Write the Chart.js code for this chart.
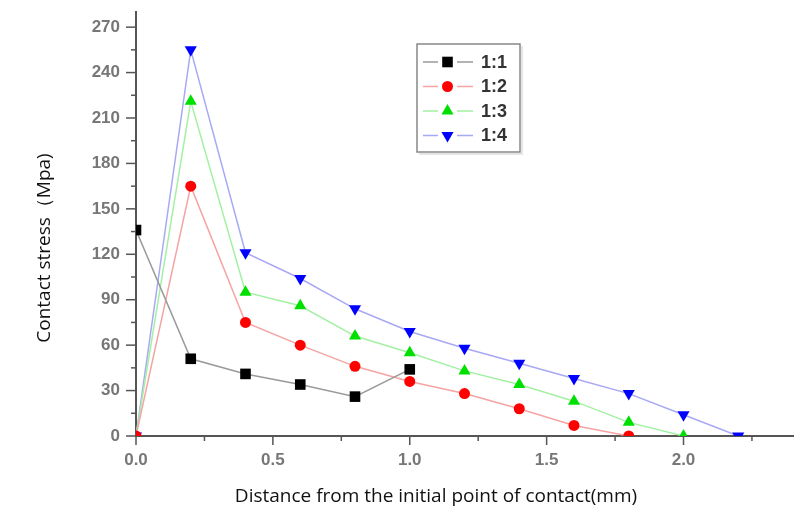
<!DOCTYPE html>
<html>
<head>
<meta charset="utf-8">
<script src="https://cdn.jsdelivr.net/npm/chart.js@4.4.1/dist/chart.umd.min.js"></script>
<style>
  html, body { margin: 0; padding: 0; background: #fff; }
  #wrap { width: 806px; height: 516px; }
</style>
</head>
<body>
<div id="wrap"><canvas id="chart" width="806" height="516"></canvas></div>
<script>
// distance (mm)
const distances = [0, 0.2, 0.4, 0.6, 0.8, 1.0, 1.2, 1.4, 1.6, 1.8, 2.0, 2.2];
const ratio11 = [136, 51, 41, 34, 26, 44];
const ratio12 = [0, 165, 75, 60, 46, 36, 28, 18, 7, 0];
const ratio13 = [0, 221, 95, 86, 66, 55, 43, 34, 23, 9, 0];
const ratio14 = [0, 255, 121, 104, 84, 69, 58, 48, 38, 28, 14, 0];
const seriesNames = ['1:1', '1:2', '1:3', '1:4'];
const yTicks = [0, 15, 30, 45, 60, 75, 90, 105, 120, 135, 150, 165, 180, 195, 210, 225, 240, 255, 270];
const xTicks = [0, 0.25, 0.5, 0.75, 1.0, 1.25, 1.5, 1.75, 2.0, 2.25];

const toPoints = vals => vals.map((v, i) => ({ x: distances[i], y: v }));

const styles = [
    { line: '#9a9a9a', mark: '#000000', shape: 'rect', r: 7.5, rot: 0 },
    { line: '#f5a3a3', mark: '#ff0000', shape: 'circle', r: 5.5, rot: 0 },
    { line: '#a3f0a3', mark: '#00e000', shape: 'triangle', r: 7, rot: 0 },
    { line: '#a8a8f5', mark: '#0000ff', shape: 'triangle', r: 7, rot: 180 }
];

const allData = [ratio11, ratio12, ratio13, ratio14];
const datasets = allData.map((vals, i) => ({
    label: seriesNames[i],
    data: toPoints(vals),
    borderColor: styles[i].line,
    borderWidth: 1.5,
    pointStyle: styles[i].shape,
    pointRotation: styles[i].rot,
    pointRadius: styles[i].r,
    pointBackgroundColor: styles[i].mark,
    pointBorderColor: styles[i].mark,
    pointBorderWidth: 0,
    tension: 0
}));

const tickFont = { family: 'Liberation Sans, Arial', size: 17, weight: 'bold' };

// ticks, axis titles and legend drawn on top
const decorPlugin = {
    id: 'decor',
    afterDraw(chart) {
        const ctx = chart.ctx;
        const xs = chart.scales.x, ys = chart.scales.y;
        const area = chart.chartArea;
        ctx.save();
        ctx.strokeStyle = '#555';
        ctx.lineWidth = 1.5;
        yTicks.forEach(v => {
            const py = ys.getPixelForValue(v);
            const len = v % 30 === 0 ? 10 : 5;
            ctx.beginPath();
            ctx.moveTo(area.left - len, py);
            ctx.lineTo(area.left, py);
            ctx.stroke();
        });
        xTicks.forEach(v => {
            const px = xs.getPixelForValue(v);
            const len = Math.round(v * 100) % 50 === 0 ? 9 : 5;
            ctx.beginPath();
            ctx.moveTo(px, area.bottom);
            ctx.lineTo(px, area.bottom + len);
            ctx.stroke();
        });

        // axis titles
        ctx.fillStyle = '#111';
        ctx.font = '19px "Open Sans"';
        ctx.textAlign = 'center';
        ctx.textBaseline = 'middle';
        ctx.fillText('Distance from the initial point of contact(mm)', 436, 497);
        ctx.save();
        ctx.translate(45, 248);
        ctx.rotate(-Math.PI / 2);
        ctx.fillText('Contact stress（Mpa)', 0, 0);
        ctx.restore();

        // legend
        const lx = 417, ly = 44, lw = 103, lh = 108;
        ctx.fillStyle = '#fff';
        ctx.fillRect(lx, ly, lw, lh);
        ctx.strokeStyle = '#888';
        ctx.lineWidth = 1.5;
        ctx.strokeRect(lx, ly, lw, lh);
        ctx.strokeStyle = '#ddd';
        ctx.beginPath();
        ctx.moveTo(lx + 2, ly + lh + 2);
        ctx.lineTo(lx + lw + 2, ly + lh + 2);
        ctx.lineTo(lx + lw + 2, ly + 2);
        ctx.stroke();
        chart.data.datasets.forEach((ds, i) => {
            const cy = 62 + i * 24.5;
            ctx.strokeStyle = ds.borderColor;
            ctx.lineWidth = 1.5;
            ctx.beginPath();
            ctx.moveTo(423, cy); ctx.lineTo(438, cy);
            ctx.moveTo(457, cy); ctx.lineTo(473, cy);
            ctx.stroke();
            ctx.fillStyle = ds.pointBackgroundColor;
            ctx.strokeStyle = ds.pointBackgroundColor;
            Chart.helpers.drawPoint(ctx, {
                pointStyle: ds.pointStyle,
                rotation: ds.pointRotation,
                radius: ds.pointRadius,
                borderWidth: 0
            }, 447.5, cy);
            ctx.fillStyle = '#333';
            ctx.font = 'bold 18px "Liberation Sans", Arial';
            ctx.textAlign = 'left';
            ctx.textBaseline = 'middle';
            ctx.fillText(ds.label, 481, cy + 1);
        });
        ctx.restore();
    }
};

new Chart(document.getElementById('chart'), {
    type: 'line',
    data: { datasets },
    options: {
        responsive: false,
        animation: false,
        layout: { padding: { left: 0, top: 12, right: 13, bottom: 0 } },
        plugins: {
            legend: { display: false },
            tooltip: { enabled: false }
        },
        scales: {
            x: {
                type: 'linear',
                min: 0,
                max: 2.4,
                afterBuildTicks: scale => { scale.ticks = xTicks.map(v => ({ value: v })); },
                afterFit: scale => { scale.height = 80; scale.paddingLeft = 0; scale.paddingRight = 0; },
                grid: { display: false, drawTicks: false },
                border: { display: true, color: '#555', width: 2 },
                ticks: {
                    padding: 14,
                    color: '#777',
                    font: tickFont,
                    maxRotation: 0,
                    autoSkip: false,
                    callback: v => (Math.round(v * 100) % 50 === 0 ? v.toFixed(1) : '')
                }
            },
            y: {
                min: 0,
                max: 280,
                afterBuildTicks: scale => { scale.ticks = yTicks.map(v => ({ value: v })); },
                afterFit: scale => { scale.width = 136; scale.paddingTop = 0; scale.paddingBottom = 0; },
                grid: { display: false, drawTicks: false },
                border: { display: true, color: '#555', width: 2 },
                ticks: {
                    padding: 16,
                    color: '#777',
                    font: tickFont,
                    autoSkip: false,
                    callback: v => (v % 30 === 0 ? String(v) : '')
                }
            }
        }
    },
    plugins: [decorPlugin]
});
</script>
</body>
</html>
